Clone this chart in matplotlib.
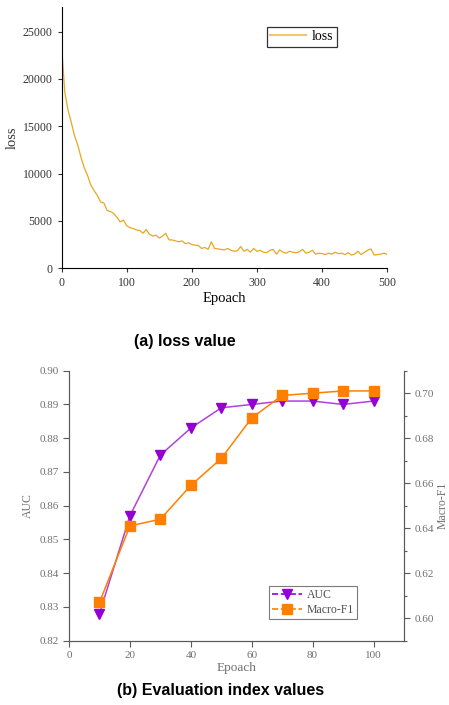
import numpy as np
import matplotlib
matplotlib.use('Agg')
import matplotlib.pyplot as plt
from matplotlib.lines import Line2D
from matplotlib.ticker import MultipleLocator

# loss curve, read every 5 epochs
loss_epochs = list(range(0, 501, 5))
loss_values = [23700, 18600, 16700, 15400, 14000, 13000, 11700, 10600, 9800, 8800,
               8200, 7700, 7000, 6900, 6100, 6000, 5800, 5400, 4900, 5100,
               4500, 4300, 4200, 4050, 4000, 3700, 4100, 3600, 3400, 3500,
               3200, 3400, 3700, 3000, 3000, 2900, 2800, 2900, 2600, 2700,
               2500, 2450, 2400, 2100, 2200, 2000, 2800, 2100, 2050, 2000,
               1950, 2100, 1900, 1800, 1850, 2300, 1800, 2000, 1700, 2100,
               1800, 1900, 1700, 1650, 1900, 2000, 1500, 1950, 1700, 1600,
               1800, 1700, 1650, 1750, 2000, 1600, 1700, 1900, 1500, 1600,
               1550, 1450, 1600, 1500, 1700, 1550, 1600, 1450, 1650, 1400,
               1500, 1800, 1450, 1700, 1900, 2050, 1400, 1450, 1500, 1600,
               1450]

# evaluation metrics
eval_epochs = [10, 20, 30, 40, 50, 60, 70, 80, 90, 100]
auc = [0.828, 0.857, 0.875, 0.883, 0.889, 0.890, 0.891, 0.891, 0.890, 0.891]
macro_f1 = [0.607, 0.641, 0.644, 0.659, 0.671, 0.689, 0.699, 0.700, 0.701, 0.701]

serif = ['Liberation Serif', 'DejaVu Serif']
gray = '#5a5a5a'

fig = plt.figure(figsize=(4.49, 7.05), dpi=100)

# ---- (a) loss ----
ax1 = fig.add_axes([0.137, 0.6194, 0.7255, 0.3707])
ax1.plot(loss_epochs, loss_values, color='#E8A81E', lw=0.9, label='loss')
ax1.set_xlim(0, 500)
ax1.set_ylim(0, 27600)
ax1.set_xticks([0, 100, 200, 300, 400, 500])
ax1.set_yticks([0, 5000, 10000, 15000, 20000, 25000])
for s in ['top', 'right']:
    ax1.spines[s].set_visible(False)
ax1.tick_params(direction='out', length=3, width=0.8, labelsize=8.5, colors='#333333')
for lab in ax1.get_xticklabels() + ax1.get_yticklabels():
    lab.set_family(serif)
ax1.set_xlabel('Epoach', family=serif, fontsize=10.5, labelpad=2)
ax1.set_ylabel('loss', family=serif, fontsize=10.5, color='#333333', labelpad=3)
leg1 = ax1.legend(loc='upper left', bbox_to_anchor=(0.63, 0.925), prop={'family': serif, 'size': 10},
                  frameon=True, fancybox=False, edgecolor='black', handlelength=2.6,
                  borderpad=0.25, handletextpad=0.4, borderaxespad=0)
leg1.get_frame().set_linewidth(0.9)
leg1.get_lines()[0].set_color('#F0C870')
leg1.get_lines()[0].set_linewidth(1.5)

fig.text(0.412, 0.516, '(a) loss value', ha='center', va='center',
         family=['Liberation Sans', 'DejaVu Sans'], fontsize=11.5, fontweight='bold')

# ---- (b) evaluation metrics ----
ax2 = fig.add_axes([0.1537, 0.0912, 0.746, 0.383])
ax3 = ax2.twinx()
auc_color = '#9400D3'
f1_color = '#FF8000'
ax2.plot(eval_epochs, auc, color='#B040E0', lw=1.1, marker='v', markersize=7,
         markerfacecolor=auc_color, markeredgecolor=auc_color, zorder=3)
ax3.plot(eval_epochs, macro_f1, color=f1_color, lw=1.1, marker='s', markersize=6.5,
         markerfacecolor=f1_color, markeredgecolor=f1_color, zorder=3)
ax2.set_xlim(0, 110)
ax2.set_ylim(0.82, 0.90)
ax3.set_ylim(0.59, 0.71)
ax2.set_xticks([0, 20, 40, 60, 80, 100])
ax2.set_yticks([0.82, 0.83, 0.84, 0.85, 0.86, 0.87, 0.88, 0.89, 0.90])
ax2.set_yticklabels(['%.2f' % v for v in ax2.get_yticks()])
ax3.set_yticks([0.60, 0.62, 0.64, 0.66, 0.68, 0.70])
ax3.set_yticklabels(['%.2f' % v for v in ax3.get_yticks()])
ax3.yaxis.set_minor_locator(MultipleLocator(0.01))
ax2.spines['top'].set_visible(False)
ax3.spines['top'].set_visible(False)
for a in (ax2, ax3):
    for s in a.spines.values():
        s.set_color(gray)
        s.set_linewidth(0.8)
    a.tick_params(direction='out', length=4, width=0.8, labelsize=8, colors=gray, labelcolor='#707070')
    a.tick_params(which='minor', direction='out', length=2.5, width=0.8, colors=gray)
    for lab in a.get_xticklabels() + a.get_yticklabels():
        lab.set_family(serif)
ax2.set_xlabel('Epoach', family=serif, fontsize=9.5, color='#707070', labelpad=1)
ax2.set_ylabel('AUC', family=serif, fontsize=8.5, color='#707070', labelpad=4)
ax3.set_ylabel('Macro-F1', family=serif, fontsize=8.5, color='#707070', rotation=90, labelpad=2)

handles = [Line2D([], [], color=auc_color, ls='--', lw=1.2, marker='v', markersize=7),
           Line2D([], [], color=f1_color, ls='--', lw=1.2, marker='s', markersize=6.5)]
leg2 = ax2.legend(handles, ['AUC', 'Macro-F1'], loc='lower left', bbox_to_anchor=(0.596, 0.081),
                  prop={'family': serif, 'size': 8.5}, frameon=True, fancybox=False,
                  edgecolor=gray, handlelength=2.6, borderpad=0.25, labelspacing=0.25,
                  handletextpad=0.4, borderaxespad=0)
leg2.get_frame().set_linewidth(0.8)
for t in leg2.get_texts():
    t.set_color('#505050')

fig.text(0.492, 0.020, '(b) Evaluation index values', ha='center', va='center',
         family=['Liberation Sans', 'DejaVu Sans'], fontsize=11.5, fontweight='bold')

fig.savefig('out.png', dpi=100)
